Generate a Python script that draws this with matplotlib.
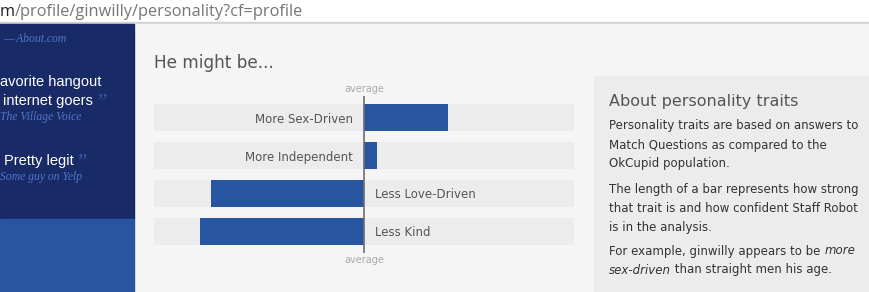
import matplotlib.pyplot as plt
from matplotlib.patches import Rectangle

# personality traits (bar length relative to half the track, + = right of average)
traits = ['More Sex-Driven', 'More Independent', 'Less Love-Driven', 'Less Kind']
scores = [0.40, 0.06, -0.73, -0.78]

about_title = 'About personality traits'
about_paras = [
    ['Personality traits are based on answers to',
     'Match Questions as compared to the',
     'OkCupid population.'],
    ['The length of a bar represents how strong',
     'that trait is and how confident Staff Robot',
     'is in the analysis.'],
]

W, H = 869, 292
fig = plt.figure(figsize=(W / 100, H / 100), dpi=100)

# background axes in pixel coordinates
bg = fig.add_axes([0, 0, 1, 1])
bg.set_xlim(0, W)
bg.set_ylim(H, 0)
bg.axis('off')

bg.add_patch(Rectangle((0, 0), W, 22, color='white'))
bg.add_patch(Rectangle((0, 22), W, 2, color='#d2d2d2'))
bg.add_patch(Rectangle((134, 24), W - 134, H - 24, color='#f5f5f5'))
bg.add_patch(Rectangle((0, 24), 134, 195, color='#182b67'))
bg.add_patch(Rectangle((0, 219), 134, H - 219, color='#2854a0'))
bg.add_patch(Rectangle((594, 76), W - 594, H - 76, color='#ececec'))

# address bar
t = bg.text(0, 16, 'm', fontsize=11.8, color='#222222', family='Open Sans')
bg.annotate('/profile/ginwilly/personality?cf=profile', xycoords=t,
            xy=(1, 0), va='bottom', fontsize=11.8, color='#757575',
            family='Open Sans')

# sidebar quotes (cut off by the window edge in the screenshot)
quote_col = '#5274c8'
bg.text(3, 42, '\u2014 About.com', fontsize=8.4, color=quote_col,
        family='Liberation Serif', style='italic')
bg.text(0, 86, 'avorite hangout', fontsize=10.5, color='white',
        family='Liberation Sans')
bg.text(3, 105, 'internet goers', fontsize=10.5, color='white',
        family='Liberation Sans')
bg.text(97, 108, '\u201d', fontsize=15, color='#3a58a6', family='Liberation Serif')
bg.text(0, 120, 'The Village Voice', fontsize=8.4, color=quote_col,
        family='Liberation Serif', style='italic')
bg.text(4, 165, 'Pretty legit', fontsize=10.5, color='white',
        family='Liberation Sans')
bg.text(77, 168, '\u201d', fontsize=15, color='#3a58a6', family='Liberation Serif')
bg.text(0, 180, 'Some guy on Yelp', fontsize=8.4, color=quote_col,
        family='Liberation Serif', style='italic')

# heading
bg.text(154, 68, 'He might be...', fontsize=12.2, color='#555555')

# about box
fs = 8.45
bg.text(609, 106, about_title, fontsize=11.5, color='#555555')
y = 129.5
for para in about_paras:
    for line in para:
        bg.text(609, y, line, fontsize=fs, color='#333333')
        y += 19
    y += 6
t = bg.text(609, 254.5, 'For example, ginwilly appears to be ', fontsize=fs, color='#333333')
bg.annotate('more', xycoords=t, xy=(1, 0), va='bottom', fontsize=fs,
            color='#333333', style='italic')
t = bg.text(609, 273.5, 'sex-driven', fontsize=fs, color='#333333', style='italic')
bg.annotate(' than straight men his age.', xycoords=t, xy=(1, 0), va='bottom',
            fontsize=fs, color='#333333')

# bar chart axes: x 154..574 px, y 96..253 px
ax = fig.add_axes([154 / W, (H - 253) / H, 420 / W, 157 / H])
ax.axis('off')
ax.set_xlim(-1, 1)
pos = list(range(len(traits)))
ax.set_ylim(3.566, -0.566)
ax.barh(pos, [2] * len(traits), left=-1, height=0.71, color='#ececec')
ax.barh(pos, scores, height=0.71, color='#2855a0')
ax.axvline(0, color='#6e6e6e', lw=1.2)
for p, name, s in zip(pos, traits, scores):
    if s >= 0:
        ax.text(-0.052, p, name, ha='right', va='center_baseline',
                fontsize=8.5, color='#555555')
    else:
        ax.text(0.052, p, name, ha='left', va='center_baseline',
                fontsize=8.5, color='#555555')

bg.text(364, 89.5, 'average', fontsize=7, color='#aaaaaa', ha='center', va='center')
bg.text(364, 260, 'average', fontsize=7, color='#aaaaaa', ha='center', va='center')

fig.savefig('out.png', dpi=100)
